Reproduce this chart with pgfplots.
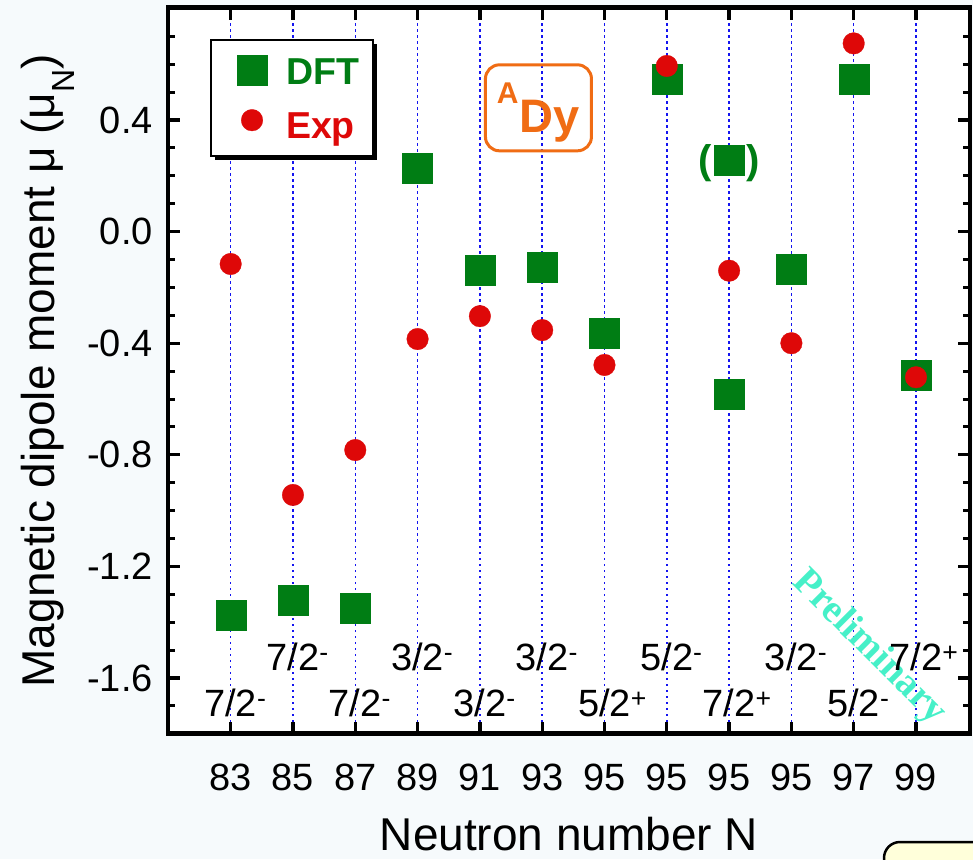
\documentclass[border=0pt]{standalone}
\usepackage{fontspec}
\setmainfont{Liberation Sans}
\newfontfamily\prelimfont{Liberation Serif}
\usepackage{pgfplots}
\pgfplotsset{compat=1.18}
\usetikzlibrary{shadows}

\definecolor{bg}{RGB}{246,250,252}
\definecolor{dftgreen}{RGB}{0,125,20}
\definecolor{expred}{RGB}{222,8,8}
\definecolor{dyorange}{RGB}{240,108,20}
\definecolor{prelim}{RGB}{70,240,200}
\definecolor{boxyellow}{RGB}{255,255,218}
\definecolor{gridblue}{RGB}{20,20,240}

\newcommand{\spin}[2]{#1\rlap{\textsuperscript{#2}}}
\newcommand{\legfont}{\fontsize{37.5}{40}\selectfont\bfseries}

\pgfplotsset{
  dftlegend/.style={legend image code/.code={\path (-26pt,0pt) (0pt,35pt); \draw[##1] plot coordinates {(0pt,15pt)};}},
  explegend/.style={legend image code/.code={\path (-26pt,-8pt); \draw[##1] plot coordinates {(0pt,18pt)};}},
}

\begin{document}
\begin{tikzpicture}
\fill[bg] (0pt,0pt) rectangle (973pt,859pt);
\begin{scope}
\clip (0pt,0pt) rectangle (973pt,859pt);
\begin{axis}[
  at={(168pt,125.3pt)}, anchor=south west,
  scale only axis, width=802pt, height=726pt,
  xmin=-1.006, xmax=11.867, ymin=-1.8, ymax=0.803,
  axis background/.style={fill=white},
  axis line style={line width=4.5pt, black},
  xtick={0,1,2,3,4,5,6,7,8,9,10,11},
  xticklabels={83,85,87,89,91,93,95,95,95,95,97,99},
  ytick={-1.6,-1.2,-0.8,-0.4,0,0.4},
  yticklabels={-1.6,-1.2,-0.8,-0.4,0.0,0.4},
  minor ytick={-1.7,-1.5,-1.4,-1.3,-1.1,-1.0,-0.9,-0.7,-0.6,-0.5,-0.3,-0.2,-0.1,0.1,0.2,0.3,0.5,0.6,0.7},
  tick align=inside,
  major tick length=12pt, minor tick length=7pt,
  tick style={black, line width=3.3pt},
  minor tick style={line width=3pt},
  xmajorgrids=true,
  grid style={gridblue, line width=1.5pt, dash pattern=on 2.2pt off 3.8pt},
  tick label style={font=\fontsize{38}{40}\selectfont},
  xticklabel style={anchor=base, inner sep=0pt, yshift=-57pt},
  yticklabel style={anchor=east, inner sep=0pt, xshift=-15pt},
  xlabel={Neutron number N},
  xlabel style={at={(axis description cs:0.5,0)}, anchor=base, yshift=-117pt, font=\fontsize{46}{50}\selectfont},
  ylabel={Magnetic dipole moment μ (μ\raisebox{-20pt}{\fontsize{32}{32}\selectfont N})},
  ylabel style={at={(axis description cs:-0.1409,0.5)}, anchor=base, font=\fontsize{46}{50}\selectfont},
  legend style={
    at={(axis description cs:0.0524,0.9573)}, anchor=north west,
    draw=black, line width=2pt, fill=white,
    drop shadow={shadow xshift=4pt, shadow yshift=-4pt, fill=black, opacity=1},
    font=\legfont,
    inner xsep=14pt, inner ysep=9pt,
    row sep=23.7pt, column sep=19pt,
    nodes={inner sep=0pt, text depth=0pt, font=\legfont},
    cells={anchor=base west},
  },
]
\addplot[only marks, mark=square*, mark size=15pt, color=dftgreen,
  mark options={line width=0.3pt}, dftlegend]
  coordinates {
  (0,-1.375) (1,-1.321) (2,-1.351) (3,0.226) (4,-0.138) (5,-0.128)
  (6,-0.364) (7,0.545) (8,-0.582) (8,0.255) (9,-0.134) (10,0.545) (11,-0.513)
  };
\addlegendentry{\legfont\textcolor{dftgreen}{DFT}}
\addplot[only marks, mark=*, mark size=10.8pt, color=expred,
  mark options={line width=0.3pt}, explegend]
  coordinates {
  (0,-0.116) (1,-0.944) (2,-0.783) (3,-0.385) (4,-0.303) (5,-0.353)
  (6,-0.478) (7,0.594) (8,-0.140) (9,-0.400) (10,0.675) (11,-0.522)
  };
\addlegendentry{\legfont\textcolor{expred}{Exp}}

% parentheses around the tentative DFT value
\node[text=dftgreen, inner sep=0pt, yshift=-2.6pt, font=\bfseries\fontsize{40}{40}\selectfont]
  at (axis cs:8,0.255) {(\hspace{34pt})};

% nucleus box
\node[draw=dyorange, line width=3pt, rounded corners=14pt, minimum width=106pt,
  minimum height=86pt, inner sep=0pt, text depth=0pt, text=dyorange,
  font=\bfseries\fontsize{47}{47}\selectfont]
  at (axis cs:4.94,0.444) {\raisebox{29pt}{\fontsize{30}{30}\selectfont A}\hspace{1.5pt}Dy};

% Preliminary watermark
\node[text=prelim, rotate=-45, inner sep=0pt, font=\prelimfont\bfseries\fontsize{39}{39}\selectfont]
  at (axis cs:10.245,-1.493) {Preliminary};

% spin-parity labels
\begin{scope}[every node/.style={anchor=base, inner sep=0pt, font=\fontsize{38}{40}\selectfont}]
\node at (axis cs:1,-1.572) {\spin{7/2}{-}};
\node at (axis cs:3,-1.572) {\spin{3/2}{-}};
\node at (axis cs:5,-1.572) {\spin{3/2}{-}};
\node at (axis cs:7,-1.572) {\spin{5/2}{-}};
\node at (axis cs:9,-1.572) {\spin{3/2}{-}};
\node at (axis cs:11,-1.572) {\spin{7/2}{+}};
\node at (axis cs:0,-1.740) {\spin{7/2}{-}};
\node at (axis cs:2,-1.740) {\spin{7/2}{-}};
\node at (axis cs:4,-1.740) {\spin{3/2}{-}};
\node at (axis cs:6,-1.740) {\spin{5/2}{+}};
\node at (axis cs:8,-1.740) {\spin{7/2}{+}};
\node at (axis cs:10,-1.740) {\spin{5/2}{-}};
\end{scope}
\end{axis}
\draw[black, line width=2.5pt, fill=boxyellow, rounded corners=16pt] (884pt,-40pt) rectangle (1030pt,17pt);
\end{scope}
\pgfresetboundingbox
\path[use as bounding box] (0pt,0pt) rectangle (973pt,859pt);
\end{tikzpicture}
\end{document}
